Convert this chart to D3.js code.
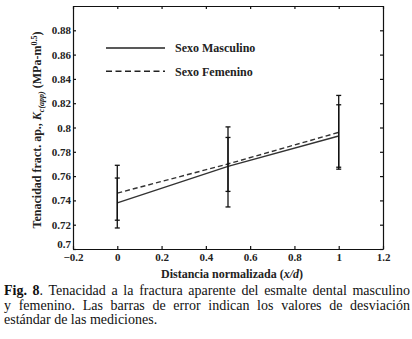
<!DOCTYPE html>
<html>
<head>
<meta charset="utf-8">
<script src="https://cdn.jsdelivr.net/npm/d3@7"></script>
<style>
  body { margin: 0; background: #fff; }
  #wrap { position: relative; width: 412px; height: 339px; overflow: hidden; }
  #caption {
    position: absolute; left: 4px; top: 284px; width: 406px;
    font-family: "Liberation Serif", "Times New Roman", serif;
    font-size: 14px; line-height: 14.5px; color: #111;
  }
  #caption .j { text-align: justify; text-align-last: justify; white-space: nowrap; }
</style>
</head>
<body>
<div id="wrap">
  <svg id="chart" width="412" height="339"></svg>
  <div id="caption">
    <div class="j"><b>Fig. 8</b>. Tenacidad a la fractura aparente del esmalte dental masculino</div>
    <div class="j">y femenino. Las barras de error indican los valores de desviación</div>
    <div>estándar de las mediciones.</div>
  </div>
</div>
<script>
// distancia normalizada
const positions = [0, 0.5, 1];

// Sexo Masculino
const maleMean = [0.738, 0.768, 0.793];
const maleLow  = [0.7173, 0.7346, 0.7673];
const maleHigh = [0.7584, 0.8005, 0.8187];

// Sexo Femenino
const femMean = [0.746, 0.770, 0.796];
const femLow  = [0.7237, 0.7474, 0.7657];
const femHigh = [0.7689, 0.7918, 0.8264];

const xTicks = [-0.2, 0, 0.2, 0.4, 0.6, 0.8, 1, 1.2];
const yTicks = [0.7, 0.72, 0.74, 0.76, 0.78, 0.8, 0.82, 0.84, 0.86, 0.88];

const series = [
  { name: "Sexo Masculino", mean: maleMean, low: maleLow, high: maleHigh, dash: null },
  { name: "Sexo Femenino", mean: femMean, low: femLow, high: femHigh, dash: "5,3" }
];

const margin = { top: 6, right: 29, bottom: 90, left: 73 },
    width = 412 - margin.left - margin.right,
    height = 339 - margin.top - margin.bottom;

const serif = "'Liberation Serif', 'Times New Roman', serif";

const svg = d3.select("#chart")
    .append("g")
    .attr("transform", "translate(" + margin.left + "," + margin.top + ")");

const x = d3.scaleLinear().domain([-0.2, 1.2]).range([0, width]);
const y = d3.scaleLinear().domain([0.7, 0.9]).range([height, 0]);

const fmt = d => d3.format("")(+d.toFixed(2));

// axes, ticks pointing inward
const styleAxis = g => {
  g.selectAll("path, line").attr("stroke", "#111").attr("stroke-width", 1.2);
  g.selectAll("text")
    .attr("font-family", serif)
    .attr("font-weight", "bold")
    .attr("font-size", "11px")
    .attr("fill", "#222");
};

svg.append("g")
    .attr("transform", "translate(0," + height + ")")
    .call(d3.axisBottom(x).tickValues(xTicks).tickFormat(fmt).tickSizeInner(-3).tickSizeOuter(0).tickPadding(4))
    .call(styleAxis);

svg.append("g")
    .call(d3.axisTop(x).tickValues(xTicks).tickFormat("").tickSizeInner(-3).tickSizeOuter(0))
    .call(styleAxis);

svg.append("g")
    .call(d3.axisLeft(y).tickValues(yTicks).tickFormat(fmt).tickSizeInner(-3).tickSizeOuter(0).tickPadding(2))
    .call(styleAxis)
    .selectAll(".tick text")
    .filter(d => d === 0.7)
    .attr("dy", "-0.1em");

svg.append("g")
    .attr("transform", "translate(" + width + ",0)")
    .call(d3.axisRight(y).tickValues(yTicks).tickFormat("").tickSizeInner(-3).tickSizeOuter(0))
    .call(styleAxis);

// lines
const line = d3.line()
    .x((d, i) => x(positions[i]))
    .y(d => y(d));

series.forEach(s => {
  svg.append("path")
      .datum(s.mean)
      .attr("fill", "none")
      .attr("stroke", "#333")
      .attr("stroke-width", 1.4)
      .attr("stroke-dasharray", s.dash)
      .attr("d", line);
});

// error bars
series.forEach(s => {
  const eb = svg.append("g").attr("stroke", "#111").attr("stroke-width", 1.3);
  positions.forEach((p, i) => {
    eb.append("line")
        .attr("x1", x(p)).attr("x2", x(p))
        .attr("y1", y(s.low[i])).attr("y2", y(s.high[i]));
    [s.low[i], s.high[i]].forEach(v => {
      eb.append("line")
          .attr("x1", x(p) - 2.5).attr("x2", x(p) + 2.5)
          .attr("y1", y(v)).attr("y2", y(v));
    });
  });
});

// legend
const legend = svg.append("g").attr("transform", "translate(33,42)");
series.forEach((s, i) => {
  const row = legend.append("g").attr("transform", "translate(0," + (i * 23.3) + ")");
  row.append("line")
      .attr("x1", 0).attr("x2", 59)
      .attr("stroke", "#222")
      .attr("stroke-width", 1.4)
      .attr("stroke-dasharray", s.dash ? "6,3.5" : null);
  row.append("text")
      .attr("x", 69)
      .attr("dy", "0.35em")
      .attr("font-family", serif)
      .attr("font-weight", "bold")
      .attr("font-size", "12px")
      .attr("fill", "#222")
      .text(s.name);
});

// x label
const xl = svg.append("text")
    .attr("x", width / 2 + 4)
    .attr("y", height + 29)
    .attr("text-anchor", "middle")
    .attr("font-family", serif)
    .attr("font-weight", "bold")
    .attr("font-size", "12px")
    .attr("fill", "#222");
xl.append("tspan").text("Distancia normalizada (");
xl.append("tspan").attr("font-style", "italic").text("x/d");
xl.append("tspan").text(")");

// y label
const yl = svg.append("text")
    .attr("transform", "translate(" + (-32) + "," + (124) + ") rotate(-90)")
    .attr("text-anchor", "middle")
    .attr("font-family", serif)
    .attr("font-weight", "bold")
    .attr("font-size", "12px")
    .attr("fill", "#222");
yl.append("tspan").text("Tenacidad fract. ap., ");
yl.append("tspan").attr("font-style", "italic").text("K");
yl.append("tspan").attr("font-style", "italic").attr("font-size", "8px").attr("dy", "3").text("c(app)");
yl.append("tspan").attr("dy", "-3").text(" (MPa-m");
yl.append("tspan").attr("font-size", "8px").attr("dy", "-4").text("0.5");
yl.append("tspan").attr("dy", "4").text(")");
</script>
</body>
</html>
